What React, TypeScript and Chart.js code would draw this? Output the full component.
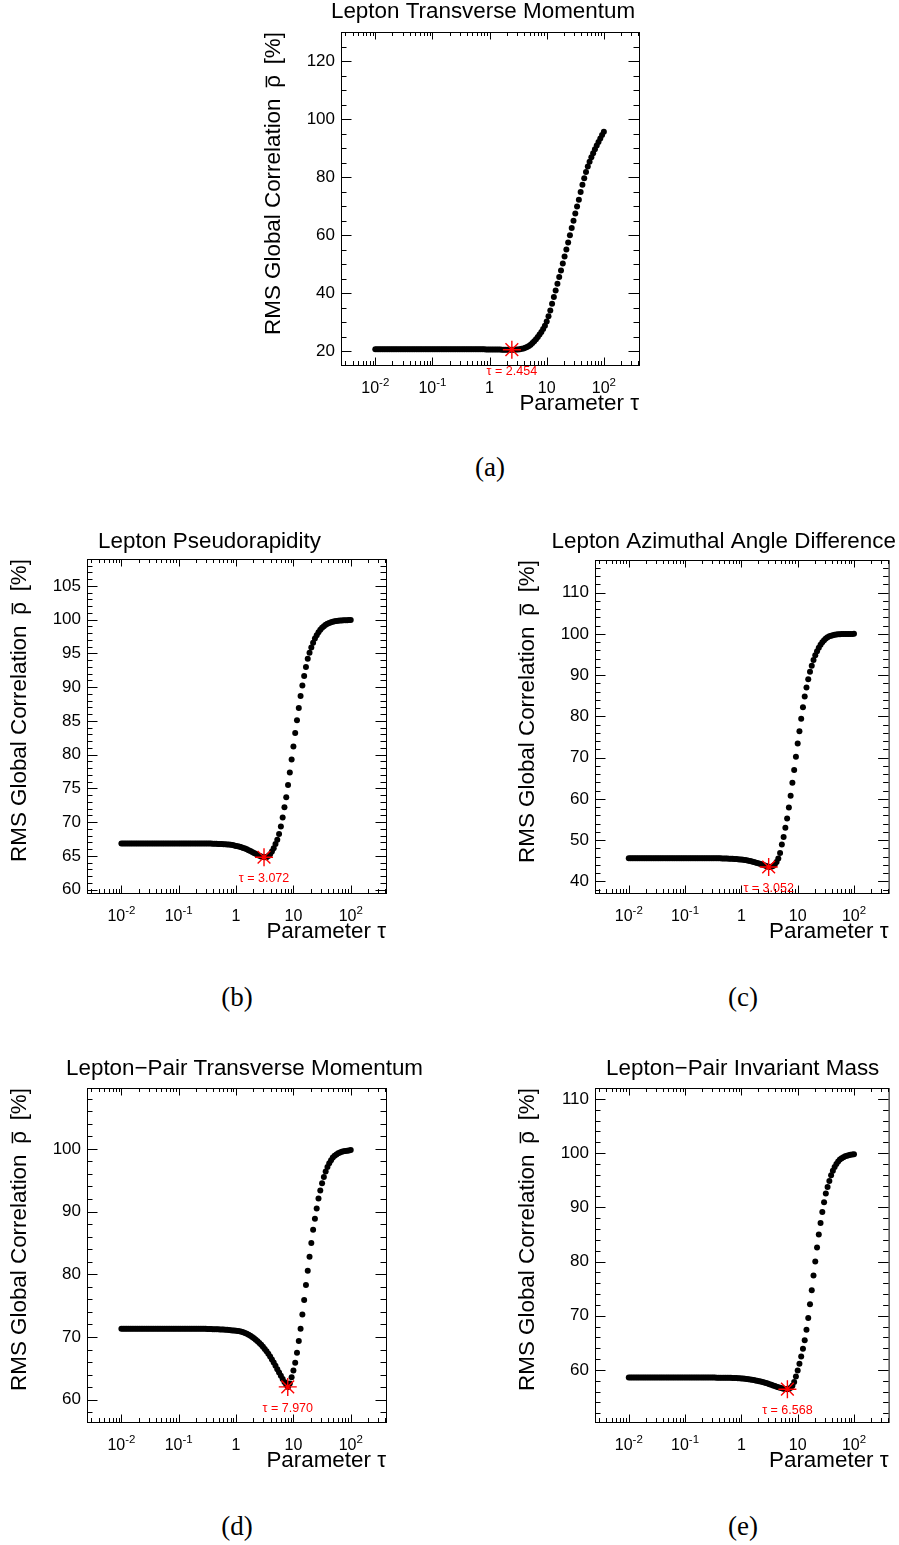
import React, { useEffect, useRef } from "react";
import { Chart, registerables } from "chart.js";

Chart.register(...registerables);

// Scan points in tau (log-uniform, 32 per decade, 0.01 .. 100)
const TAU = [
  0.01, 0.010746, 0.011548, 0.012409, 0.013335, 0.01433, 0.015399, 0.016548, 0.017783, 0.01911, 0.020535, 0.022067, 0.023714, 0.025483, 0.027384, 0.029427,
  0.031623, 0.033982, 0.036517, 0.039242, 0.04217, 0.045316, 0.048697, 0.05233, 0.056234, 0.06043, 0.064938, 0.069783, 0.074989, 0.080584, 0.086596, 0.093057,
  0.1, 0.10746, 0.11548, 0.12409, 0.13335, 0.1433, 0.15399, 0.16548, 0.17783, 0.1911, 0.20535, 0.22067, 0.23714, 0.25483, 0.27384, 0.29427,
  0.31623, 0.33982, 0.36517, 0.39242, 0.4217, 0.45316, 0.48697, 0.5233, 0.56234, 0.6043, 0.64938, 0.69783, 0.74989, 0.80584, 0.86596, 0.93057,
  1, 1.0746, 1.1548, 1.2409, 1.3335, 1.433, 1.5399, 1.6548, 1.7783, 1.911, 2.0535, 2.2067, 2.3714, 2.5483, 2.7384, 2.9427,
  3.1623, 3.3982, 3.6517, 3.9242, 4.217, 4.5316, 4.8697, 5.233, 5.6234, 6.043, 6.4938, 6.9783, 7.4989, 8.0584, 8.6596, 9.3057,
  10, 10.746, 11.548, 12.409, 13.335, 14.33, 15.399, 16.548, 17.783, 19.11, 20.535, 22.067, 23.714, 25.483, 27.384, 29.427,
  31.623, 33.982, 36.517, 39.242, 42.17, 45.316, 48.697, 52.33, 56.234, 60.43, 64.938, 69.783, 74.989, 80.584, 86.596, 93.057,
  100,
];

// (a) Lepton Transverse Momentum
const RHO_A = [
  20.6, 20.6, 20.6, 20.6, 20.6, 20.6, 20.6, 20.6, 20.6, 20.6, 20.6, 20.6, 20.6, 20.6, 20.6, 20.6,
  20.6, 20.6, 20.6, 20.6, 20.6, 20.6, 20.6, 20.6, 20.6, 20.6, 20.6, 20.6, 20.6, 20.6, 20.6, 20.6,
  20.6, 20.6, 20.6, 20.6, 20.6, 20.6, 20.6, 20.6, 20.6, 20.6, 20.6, 20.6, 20.6, 20.6, 20.6, 20.6,
  20.6, 20.6, 20.6, 20.6, 20.6, 20.6, 20.6, 20.6, 20.6, 20.6, 20.6, 20.6, 20.59, 20.59, 20.58, 20.58,
  20.57, 20.56, 20.55, 20.54, 20.53, 20.52, 20.51, 20.5, 20.5, 20.49, 20.48, 20.48, 20.48, 20.48, 20.5, 20.53,
  20.58, 20.65, 20.76, 20.92, 21.13, 21.4, 21.75, 22.2, 22.75, 23.4, 24.1, 24.85, 25.7, 26.6, 27.6, 28.7,
  30.2, 32.0, 34.0, 36.3, 38.6, 40.9, 43.2, 45.5, 47.8, 50.2, 52.6, 55.0, 57.4, 59.9, 62.4, 64.9,
  67.4, 69.8, 72.2, 74.8, 77.3, 79.6, 81.7, 83.6, 85.3, 86.8, 88.2, 89.6, 90.9, 92.1, 93.3, 94.5,
  95.6,
];

// (b) Lepton Pseudorapidity
const RHO_B = [
  66.85, 66.85, 66.85, 66.85, 66.85, 66.85, 66.85, 66.85, 66.85, 66.85, 66.85, 66.85, 66.85, 66.85, 66.85, 66.85,
  66.85, 66.85, 66.85, 66.85, 66.85, 66.85, 66.85, 66.85, 66.85, 66.85, 66.85, 66.85, 66.85, 66.85, 66.85, 66.85,
  66.85, 66.85, 66.85, 66.85, 66.85, 66.85, 66.85, 66.85, 66.85, 66.85, 66.85, 66.85, 66.85, 66.85, 66.85, 66.85,
  66.83, 66.83, 66.82, 66.81, 66.8, 66.79, 66.78, 66.77, 66.76, 66.74, 66.72, 66.7, 66.67, 66.64, 66.6, 66.55,
  66.48, 66.42, 66.35, 66.27, 66.18, 66.08, 65.97, 65.85, 65.72, 65.58, 65.44, 65.3, 65.15, 65.02, 64.9, 64.82,
  64.78, 64.8, 65.0, 65.25, 65.65, 66.15, 66.75, 67.4, 68.25, 69.35, 70.7, 72.2, 73.7, 75.5, 77.35, 79.3,
  81.2, 83.2, 85.1, 86.9, 88.7, 90.25, 91.65, 93.0, 94.2, 95.1, 95.9, 96.6, 97.2, 97.7, 98.15, 98.5,
  98.8, 99.05, 99.25, 99.4, 99.52, 99.62, 99.7, 99.76, 99.8, 99.84, 99.87, 99.9, 99.92, 99.93, 99.94, 99.95,
  99.96,
];

// (c) Lepton Azimuthal Angle Difference
const RHO_C = [
  45.65, 45.65, 45.65, 45.65, 45.65, 45.65, 45.65, 45.65, 45.65, 45.65, 45.65, 45.65, 45.65, 45.65, 45.65, 45.65,
  45.65, 45.65, 45.65, 45.65, 45.65, 45.65, 45.65, 45.65, 45.65, 45.65, 45.65, 45.65, 45.65, 45.65, 45.65, 45.65,
  45.65, 45.65, 45.65, 45.65, 45.65, 45.65, 45.65, 45.65, 45.65, 45.65, 45.65, 45.65, 45.65, 45.65, 45.65, 45.65,
  45.64, 45.63, 45.62, 45.61, 45.6, 45.59, 45.57, 45.56, 45.55, 45.53, 45.5, 45.48, 45.45, 45.42, 45.38, 45.34,
  45.3, 45.24, 45.18, 45.11, 45.03, 44.94, 44.85, 44.74, 44.62, 44.49, 44.35, 44.2, 44.05, 43.9, 43.75, 43.6,
  43.5, 43.55, 43.75, 44.1, 44.7, 45.55, 46.9, 48.95, 50.8, 53.0, 55.25, 57.9, 60.75, 63.9, 67.0, 70.2,
  73.4, 76.4, 79.45, 82.2, 84.8, 87.0, 89.0, 90.8, 92.3, 93.65, 94.8, 95.8, 96.65, 97.35, 97.95, 98.45,
  98.85, 99.15, 99.4, 99.55, 99.68, 99.78, 99.85, 99.9, 99.93, 99.95, 99.96, 99.97, 99.98, 99.98, 99.99, 99.99,
  100.0,
];

// (d) Lepton-Pair Transverse Momentum
const RHO_D = [
  71.3, 71.3, 71.3, 71.3, 71.3, 71.3, 71.3, 71.3, 71.3, 71.3, 71.3, 71.3, 71.3, 71.3, 71.3, 71.3,
  71.3, 71.3, 71.3, 71.3, 71.3, 71.3, 71.3, 71.3, 71.3, 71.3, 71.3, 71.3, 71.3, 71.3, 71.3, 71.3,
  71.3, 71.3, 71.3, 71.3, 71.3, 71.3, 71.3, 71.3, 71.3, 71.3, 71.3, 71.3, 71.3, 71.3, 71.3, 71.3,
  71.28, 71.27, 71.26, 71.25, 71.25, 71.24, 71.23, 71.21, 71.2, 71.18, 71.16, 71.14, 71.11, 71.08, 71.05, 71.03,
  71.0, 70.95, 70.9, 70.82, 70.74, 70.65, 70.5, 70.38, 70.2, 70.0, 69.8, 69.58, 69.33, 69.05, 68.75, 68.43,
  68.1, 67.73, 67.33, 66.9, 66.42, 65.92, 65.4, 64.87, 64.35, 63.83, 63.3, 62.82, 62.4, 62.05, 62.6, 63.6,
  64.67, 65.9, 67.5, 69.35, 71.3, 73.6, 75.9, 78.3, 80.55, 82.8, 85.0, 87.1, 88.85, 90.5, 92.1, 93.35,
  94.5, 95.5, 96.4, 97.1, 97.7, 98.2, 98.6, 98.9, 99.1, 99.28, 99.42, 99.52, 99.6, 99.66, 99.71, 99.75,
  99.8,
];

// (e) Lepton-Pair Invariant Mass
const RHO_E = [
  58.6, 58.6, 58.6, 58.6, 58.6, 58.6, 58.6, 58.6, 58.6, 58.6, 58.6, 58.6, 58.6, 58.6, 58.6, 58.6,
  58.6, 58.6, 58.6, 58.6, 58.6, 58.6, 58.6, 58.6, 58.6, 58.6, 58.6, 58.6, 58.6, 58.6, 58.6, 58.6,
  58.6, 58.6, 58.6, 58.6, 58.6, 58.6, 58.6, 58.6, 58.6, 58.6, 58.6, 58.6, 58.6, 58.6, 58.6, 58.6,
  58.59, 58.59, 58.58, 58.58, 58.58, 58.57, 58.57, 58.56, 58.56, 58.55, 58.54, 58.53, 58.52, 58.51, 58.49, 58.47,
  58.43, 58.4, 58.37, 58.33, 58.29, 58.24, 58.19, 58.13, 58.07, 58.0, 57.93, 57.85, 57.77, 57.68, 57.58, 57.48,
  57.38, 57.27, 57.15, 57.03, 56.92, 56.82, 56.72, 56.63, 56.55, 56.48, 56.45, 56.5, 56.7, 57.1, 57.8, 58.77,
  59.88, 61.15, 62.5, 63.9, 65.5, 67.4, 69.6, 72.1, 74.72, 77.42, 80.0, 82.58, 84.97, 87.11, 89.14, 90.92,
  92.52, 93.74, 94.85, 95.89, 96.75, 97.45, 98.0, 98.45, 98.8, 99.05, 99.25, 99.4, 99.5, 99.6, 99.67, 99.72,
  99.77,
];

const SERIES = [RHO_A, RHO_B, RHO_C, RHO_D, RHO_E];
const TITLES = [
  "Lepton Transverse Momentum",
  "Lepton Pseudorapidity",
  "Lepton Azimuthal Angle Difference",
  "Lepton\u2212Pair Transverse Momentum",
  "Lepton\u2212Pair Invariant Mass",
];
const CAPTIONS = ["(a)", "(b)", "(c)", "(d)", "(e)"];
const TAU_BEST = [2.454, 3.072, 3.052, 7.97, 6.568];
const RHO_BEST = [20.48, 64.8, 43.5, 62.05, 56.45];
const TAU_BEST_LABELS = ["\u03c4 = 2.454", "\u03c4 = 3.072", "\u03c4 = 3.052", "\u03c4 = 7.970", "\u03c4 = 6.568"];
const Y_MAJOR_TICKS = [
  [20, 40, 60, 80, 100, 120],
  [60, 65, 70, 75, 80, 85, 90, 95, 100, 105],
  [40, 50, 60, 70, 80, 90, 100, 110],
  [60, 70, 80, 90, 100],
  [60, 70, 80, 90, 100, 110],
];
const Y_MAJOR_STEP = [20, 5, 10, 10, 10];
const Y_MINOR_STEP = [5, 1, 2, 2, 2];
const Y_RANGE = [
  [15.2, 130],
  [59.5, 109],
  [37.2, 117.9],
  [56.45, 109.7],
  [50.4, 112],
];
const X_TICKS = [0.01, 0.1, 1, 10, 100];
const X_TICK_BASE = ["10", "10", "1", "10", "10"];
const X_TICK_EXP = ["-2", "-1", "", "", "2"];
const X_RANGE = [0.002512, 412];
const X_TITLE = "Parameter \u03c4";
const Y_TITLE_PRE = "RMS Global Correlation\u2009 ";
const Y_TITLE_SYM = "\u03c1";
const Y_TITLE_POST = "\u2009 [%]";

// Layout (page coordinates of the frames, titles and captions)
const LAYOUT = [
  { L: 341, R: 639, T: 32, B: 365, padRight: 40, tx: 483, ty: 12.2, cx: 490, cy: 467 },
  { L: 87, R: 386, T: 559, B: 893, padRight: 40, tx: 209.5, ty: 542, cx: 237, cy: 997 },
  { L: 595, R: 893, T: 560, B: 893, padRight: 6, tx: 723.7, ty: 542.2, cx: 743, cy: 997 },
  { L: 87, R: 386, T: 1088, B: 1422, padRight: 40, tx: 244.5, ty: 1069, cx: 237, cy: 1526 },
  { L: 595, R: 893, T: 1088, B: 1422, padRight: 6, tx: 742.7, ty: 1069, cx: 743, cy: 1526 },
];

const SANS = "'Liberation Sans', Arial, Helvetica, sans-serif";
const Y_AXIS_W = 86;
const X_AXIS_H = 60;
const TOP_PAD = 32;
const AXIS_TITLE_SIZE = 22.4;
const Y_TITLE_PAD = 5.6;

function Panel({ idx }: { idx: number }) {
  const ref = useRef<HTMLCanvasElement | null>(null);
  const lay = LAYOUT[idx];
  const left = lay.L - Y_AXIS_W;
  const top = lay.T - TOP_PAD;
  const width = lay.R - left + lay.padRight;
  const height = lay.B - lay.T + TOP_PAD + X_AXIS_H;

  useEffect(() => {
    const canvas = ref.current;
    if (!canvas) return;
    const series = SERIES[idx];
    const [ymin, ymax] = Y_RANGE[idx];

    const rootPlugin = {
      id: "rootFrame",
      beforeDatasetsDraw(chart: any) {
        const { ctx, chartArea: a, scales } = chart;
        const xs = scales.x;
        const ys = scales.y;
        ctx.save();
        ctx.strokeStyle = "#000";
        ctx.lineWidth = 1;
        ctx.strokeRect(a.left + 0.5, a.top + 0.5, a.right - a.left, a.bottom - a.top);
        ctx.beginPath();
        const ms = Y_MINOR_STEP[idx];
        const Ms = Y_MAJOR_STEP[idx];
        const i0 = Math.ceil(ymin / ms);
        const i1 = Math.floor(ymax / ms);
        for (let i = i0; i <= i1; i++) {
          const v = i * ms;
          const r = v / Ms;
          const major = Math.abs(r - Math.round(r)) < 1e-6;
          const len = major ? 10.5 : 5.5;
          const py = Math.round(ys.getPixelForValue(v)) + 0.5;
          ctx.moveTo(a.left, py);
          ctx.lineTo(a.left + len, py);
          ctx.moveTo(a.right, py);
          ctx.lineTo(a.right - len, py);
        }
        for (let e = -3; e <= 2; e++) {
          for (let d = 1; d <= 9; d++) {
            const v = d * Math.pow(10, e);
            if (v < X_RANGE[0] || v > X_RANGE[1]) continue;
            const len = d === 1 ? 7.5 : 4;
            const px = Math.round(xs.getPixelForValue(v)) + 0.5;
            ctx.moveTo(px, a.bottom);
            ctx.lineTo(px, a.bottom - len);
            ctx.moveTo(px, a.top);
            ctx.lineTo(px, a.top + len);
          }
        }
        ctx.stroke();
        ctx.restore();
      },
      afterDraw(chart: any) {
        const { ctx, scales, chartArea: a } = chart;
        const xs = scales.x;
        const ys = scales.y;
        ctx.save();
        ctx.fillStyle = "#000";
        // chart title
        ctx.font = `22.4px ${SANS}`;
        ctx.textAlign = "center";
        ctx.textBaseline = "middle";
        ctx.fillText(TITLES[idx], lay.tx - left, lay.ty - top);
        // x tick labels with exponents (10^n)
        const base = a.bottom + 28.3;
        ctx.textAlign = "left";
        ctx.textBaseline = "alphabetic";
        X_TICKS.forEach((v, i) => {
          const px = xs.getPixelForValue(v);
          ctx.font = `16px ${SANS}`;
          const wb = ctx.measureText(X_TICK_BASE[i]).width;
          ctx.font = `11.5px ${SANS}`;
          const we = X_TICK_EXP[i] ? ctx.measureText(X_TICK_EXP[i]).width : 0;
          const x0 = px - (wb + we) / 2;
          ctx.font = `16px ${SANS}`;
          ctx.fillText(X_TICK_BASE[i], x0, base);
          if (X_TICK_EXP[i]) {
            ctx.font = `11.5px ${SANS}`;
            ctx.fillText(X_TICK_EXP[i], x0 + wb, base - 7.3);
          }
        });
        // overline on rho of y-axis title
        ctx.font = `${AXIS_TITLE_SIZE}px ${SANS}`;
        const wPost = ctx.measureText(Y_TITLE_POST).width;
        const wSym = ctx.measureText(Y_TITLE_SYM).width;
        const tcx = ys.left + (AXIS_TITLE_SIZE * 1.2) / 2 + Y_TITLE_PAD;
        const barX = tcx - AXIS_TITLE_SIZE * 0.34;
        ctx.fillRect(barX - 0.75, a.top + wPost + 1, 1.5, wSym - 1.5);
        // best tau marker label
        const bx = xs.getPixelForValue(TAU_BEST[idx]);
        const by = ys.getPixelForValue(RHO_BEST[idx]);
        ctx.fillStyle = "#ff0000";
        ctx.font = `12.5px ${SANS}`;
        ctx.textAlign = "center";
        ctx.textBaseline = "middle";
        ctx.fillText(TAU_BEST_LABELS[idx], bx, by + 21.5);
        ctx.restore();
      },
    };

    const chart = new Chart(canvas, {
      type: "scatter",
      data: {
        datasets: [
          {
            label: "best",
            data: [{ x: TAU_BEST[idx], y: RHO_BEST[idx] }],
            pointStyle: "star",
            pointRadius: 9,
            borderColor: "#ff0000",
            backgroundColor: "#ff0000",
            borderWidth: 1.4,
            order: 0,
          },
          {
            label: "scan",
            data: TAU.map((t, i) => ({ x: t, y: series[i] })),
            pointStyle: "circle",
            pointRadius: 3,
            backgroundColor: "#000",
            borderWidth: 0,
            order: 1,
          },
        ],
      },
      options: {
        animation: false,
        responsive: false,
        devicePixelRatio: 1,
        events: [],
        layout: { padding: { left: 0, right: lay.padRight, top: TOP_PAD, bottom: 0 } },
        plugins: {
          legend: { display: false },
          tooltip: { enabled: false },
          title: { display: false },
        },
        scales: {
          x: {
            type: "logarithmic",
            position: "bottom",
            min: X_RANGE[0],
            max: X_RANGE[1],
            grid: { display: false, drawTicks: false },
            border: { display: false },
            ticks: { display: false, autoSkip: false, maxRotation: 0, minRotation: 0 },
            afterBuildTicks: (s: any) => {
              s.ticks = X_TICKS.map((v) => ({ value: v }));
            },
            afterFit: (s: any) => {
              s.height = X_AXIS_H;
              s.paddingLeft = 0;
              s.paddingRight = 0;
            },
            title: {
              display: true,
              text: X_TITLE,
              align: "end",
              color: "#000",
              font: { family: SANS, size: AXIS_TITLE_SIZE },
              padding: { top: 0, bottom: 8.1 },
            },
          },
          y: {
            type: "linear",
            position: "left",
            min: ymin,
            max: ymax,
            grid: { display: false, drawTicks: false },
            border: { display: false },
            ticks: {
              padding: 6,
              color: "#000",
              font: { family: SANS, size: 17 },
              callback: (v: any) => String(v),
            },
            afterBuildTicks: (s: any) => {
              s.ticks = Y_MAJOR_TICKS[idx].map((v) => ({ value: v }));
            },
            afterFit: (s: any) => {
              s.width = Y_AXIS_W;
              s.paddingTop = 0;
              s.paddingBottom = 0;
            },
            title: {
              display: true,
              text: Y_TITLE_PRE + Y_TITLE_SYM + Y_TITLE_POST,
              align: "end",
              color: "#000",
              font: { family: SANS, size: AXIS_TITLE_SIZE },
              padding: { top: Y_TITLE_PAD, bottom: 0 },
            },
          },
        },
      } as any,
      plugins: [rootPlugin],
    });
    return () => chart.destroy();
  }, [idx]);

  return (
    <canvas
      ref={ref}
      width={width}
      height={height}
      style={{ position: "absolute", left, top, width, height }}
    />
  );
}

export default function App() {
  return (
    <div
      style={{
        position: "absolute",
        left: 0,
        top: 0,
        width: 899,
        height: 1545,
        background: "#fff",
        overflow: "hidden",
      }}
    >
      {LAYOUT.map((lay, i) => (
        <React.Fragment key={i}>
          <Panel idx={i} />
          <div
            style={{
              position: "absolute",
              left: lay.cx - 50,
              width: 100,
              top: lay.cy - 20,
              height: 40,
              lineHeight: "40px",
              textAlign: "center",
              fontFamily: "'Liberation Serif', 'DejaVu Serif', serif",
              fontSize: 27,
              color: "#000",
            }}
          >
            {CAPTIONS[i]}
          </div>
        </React.Fragment>
      ))}
    </div>
  );
}
